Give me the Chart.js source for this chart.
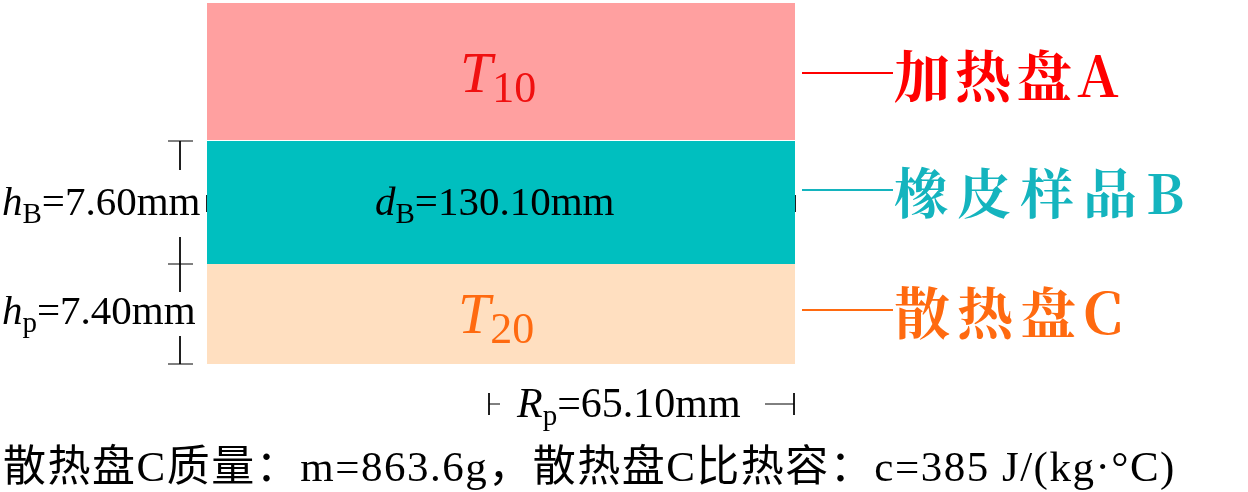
<!DOCTYPE html>
<html><head><meta charset="utf-8">
<script src="https://cdn.jsdelivr.net/npm/chart.js@4/dist/chart.umd.min.js"></script>
<style>html,body{margin:0;background:#fff}canvas{display:block}</style>
</head><body>
<canvas id="c" width="1248" height="492"></canvas>
<script>
// layers in diagram units (reference pixel grid)
const layerNames = ['加热盘A', '橡皮样品B', '散热盘C'];
const layerTops = [3, 141, 264];
const layerBottoms = [140, 264, 364];
const layerLeft = 207, layerRight = 795;
const layerColors = ['#FFA0A0', '#00BFBF', '#FFDFC0'];
const labelColors = ['#FF0000', '#14B4BE', '#FF6A10'];
const labelY = [73, 190, 310];
const connectorX = [802, 893];

const serif = "'Liberation Serif', 'Noto Sans CJK SC', serif";
const cjk = "'Noto Serif CJK SC', 'Noto Sans CJK SC', serif";

const datasets = [];
layerNames.forEach((n, i) => {
    datasets.push({
        data: [{x: layerLeft, y: layerTops[i]}, {x: layerRight, y: layerTops[i]}],
        fill: {value: layerBottoms[i]},
        backgroundColor: layerColors[i],
        borderWidth: 0, pointRadius: 0
    });
    datasets.push({
        data: [{x: connectorX[0], y: labelY[i]}, {x: connectorX[1], y: labelY[i]}],
        borderColor: labelColors[i], borderWidth: 2, pointRadius: 0, fill: false
    });
});
// dimension lines (black)
const dimLines = [
    [[207, 203], [365, 203]], [[632, 203], [795, 203]],
    [[207, 195], [207, 212]], [[795, 195], [795, 212]],
    [[180, 141], [180, 170]], [[168, 141], [193, 141]],
    [[180, 237], [180, 292]], [[168, 264], [193, 264]],
    [[180, 336], [180, 364]], [[168, 364], [193, 364]],
    [[489, 393], [489, 415]], [[489, 404], [500, 404]],
    [[765, 404], [794, 404]], [[794, 393], [794, 415]]
];
dimLines.forEach(l => datasets.push({
    data: l.map(p => ({x: p[0], y: p[1]})),
    borderColor: '#000', borderWidth: 1, pointRadius: 0, fill: false
}));

function runs(ctx, x, y, parts) {
    parts.forEach(p => {
        ctx.font = p.f;
        ctx.fillStyle = p.c || '#000';
        ctx.fillText(p.t, x, y + (p.dy || 0));
        x += ctx.measureText(p.t).width;
    });
}

const textPlugin = {
    id: 'texts',
    afterDatasetsDraw(chart) {
        const ctx = chart.ctx, sx = chart.scales.x, sy = chart.scales.y;
        const X = v => sx.getPixelForValue(v), Y = v => sy.getPixelForValue(v);
        ctx.save();
        ctx.textBaseline = 'alphabetic';
        runs(ctx, X(460), Y(92), [
            {t: 'T', f: 'italic 58px ' + serif, c: '#F01010'},
            {t: '10', f: '44px ' + serif, c: '#F01010', dy: 10}]);
        runs(ctx, X(458), Y(333), [
            {t: 'T', f: 'italic 58px ' + serif, c: '#FF6A10'},
            {t: '20', f: '44px ' + serif, c: '#FF6A10', dy: 10}]);
        const lf = 41, sf = 29;
        runs(ctx, X(2), Y(215), [
            {t: 'h', f: 'italic ' + lf + 'px ' + serif},
            {t: 'B', f: sf + 'px ' + serif, dy: 8},
            {t: '=7.60mm', f: lf + 'px ' + serif}]);
        runs(ctx, X(2), Y(324), [
            {t: 'h', f: 'italic ' + lf + 'px ' + serif},
            {t: 'p', f: sf + 'px ' + serif, dy: 8},
            {t: '=7.40mm', f: lf + 'px ' + serif}]);
        runs(ctx, X(375), Y(215), [
            {t: 'd', f: 'italic ' + lf + 'px ' + serif},
            {t: 'B', f: sf + 'px ' + serif, dy: 8},
            {t: '=130.10mm', f: lf + 'px ' + serif}]);
        runs(ctx, X(517), Y(417), [
            {t: 'R', f: 'italic 42px ' + serif},
            {t: 'p', f: sf + 'px ' + serif, dy: 8},
            {t: '=65.10mm', f: '42px ' + serif}]);
        const sizes = [56, 54, 56], spacing = ['5px', '9px', '7px'];
        layerNames.forEach((n, i) => {
            ctx.font = 'bold ' + sizes[i] + 'px ' + cjk;
            ctx.letterSpacing = spacing[i];
            ctx.fillStyle = labelColors[i];
            ctx.fillText(n, X(894), Y(labelY[i] + 24));
        });
        ctx.font = '43px ' + serif;
        ctx.letterSpacing = '1.5px';
        ctx.fillStyle = '#000';
        ctx.fillText('散热盘C质量：m=863.6g，散热盘C比热容：c=385 J/(kg·°C)', X(3), Y(481));
        ctx.restore();
    }
};

new Chart(document.getElementById('c'), {
    type: 'line',
    data: {datasets},
    options: {
        responsive: false, animation: false,
        layout: {padding: 0},
        plugins: {legend: {display: false}, tooltip: {enabled: false}},
        scales: {
            x: {type: 'linear', min: 0, max: 1248, display: false},
            y: {type: 'linear', min: 0, max: 492, reverse: true, display: false}
        }
    },
    plugins: [textPlugin]
});
</script>
</body></html>
